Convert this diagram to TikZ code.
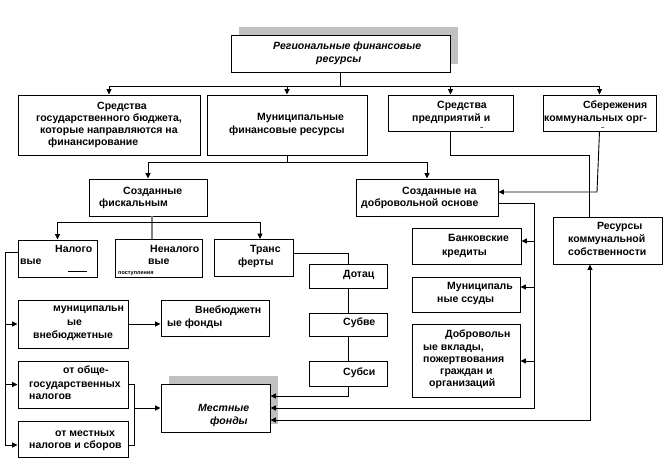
\documentclass[tikz,border=0pt]{standalone}
\usepackage{fontspec}
\setmainfont{Liberation Sans}
\usetikzlibrary{arrows.meta,shadows}
\definecolor{shad}{RGB}{192,192,192}
\definecolor{gline}{RGB}{128,128,128}
\begin{document}
\begin{tikzpicture}[x=1pt,y=-1pt,
 box/.style={draw, line width=0.9pt, fill=white, inner sep=0pt},
 t/.style={anchor=west, inner sep=0pt, text height=6pt, text depth=0pt, font=\bfseries\fontsize{10.5}{12.5}\selectfont},
 ti/.style={t, font=\bfseries\itshape\fontsize{10.5}{12.5}\selectfont},
 ln/.style={line width=0.9pt},
 arr/.style={ln, -{Triangle[length=5.5pt,width=5pt]}},
 darr/.style={ln, {Triangle[length=5.5pt,width=5pt]}-{Triangle[length=5.5pt,width=5pt]}},
 sh/.style={general shadow={fill=shad, shadow xshift=8pt, shadow yshift=8pt}}]
\useasboundingbox (0,0) rectangle (665,460);
\fill[white] (0,0) rectangle (665,460);

% boxes
\node[box, sh, minimum width=219pt, minimum height=37pt] (top) at (340.5,53.5) {};
\node[box, minimum width=182pt, minimum height=60pt] (b1) at (109,125) {};
\node[box, minimum width=160pt, minimum height=60pt] (b2) at (287,125) {};
\node[box, minimum width=125pt, minimum height=36pt] (b3) at (450.5,113) {};
\node[box, minimum width=113pt, minimum height=36pt] (b4) at (599.5,113) {};
\node[box, minimum width=118pt, minimum height=37pt] (fisk) at (148,197.5) {};
\node[box, minimum width=142pt, minimum height=37pt] (vol) at (427,197.5) {};
\node[box, minimum width=109pt, minimum height=47pt] (res) at (607.5,240.5) {};
\node[box, minimum width=109pt, minimum height=36pt] (bank) at (466.5,246) {};
\node[box, minimum width=108pt, minimum height=35pt] (ssud) at (466,294.5) {};
\node[box, minimum width=108pt, minimum height=73pt] (dobr) at (466,360.5) {};
\node[box, minimum width=79pt, minimum height=37pt] (nal) at (57.5,258.5) {};
\node[box, minimum width=87pt, minimum height=38pt] (nenal) at (158.5,258) {};
\node[box, minimum width=79pt, minimum height=37pt] (trans) at (253.5,257.5) {};
\node[box, minimum width=78pt, minimum height=24pt] (dot) at (348,276) {};
\node[box, minimum width=78pt, minimum height=23pt] (subv) at (348,324.5) {};
\node[box, minimum width=78pt, minimum height=25pt] (subs) at (348,373.5) {};
\node[box, minimum width=110pt, minimum height=48pt] (mun) at (73,324) {};
\node[box, minimum width=108pt, minimum height=36pt] (vneb) at (215,318) {};
\node[box, minimum width=110pt, minimum height=47pt] (obsh) at (73,384.5) {};
\node[box, minimum width=110pt, minimum height=36pt] (mestn) at (73,439) {};
\node[box, sh, minimum width=109pt, minimum height=48pt] (mest) at (215.5,408) {};

% texts
\node[ti] (tt1) at (273,47) {Региональные финансовые};
\node[ti] (tt2) at (316,60) {ресурсы};
\node[t] (a1) at (97,107) {Средства};
\node[t] (a2) at (36,119) {государственного бюджета,};
\node[t] (a3) at (40,131) {которые направляются на};
\node[t] (a4) at (48,143) {финансирование};
\node[t] (b2t1) at (257,118) {Муниципальные};
\node[t] (b2t2) at (229,131) {финансовые ресурсы};
\node[t] (b3t1) at (437,106) {Средства};
\node[t] (b3t2) at (412,119) {предприятий и};
\node[t, font=\bfseries\fontsize{6}{7}\selectfont] (b3t3) at (480,127) {–};
\node[t] (b4t1) at (583,106) {Сбережения};
\node[t] (b4t2) at (544,119) {коммунальных орг-};
\node[t, font=\bfseries\fontsize{6}{7}\selectfont] (b4t3) at (601,127) {–};
\node[t] (f1) at (123,191) {Созданные};
\node[t] (f2) at (99,203) {фискальным};
\node[t] (v1) at (402,191) {Созданные на};
\node[t] (v2) at (361,203) {добровольной основе};
\node[t] (r1) at (597,226) {Ресурсы};
\node[t] (r2) at (568,239) {коммунальной};
\node[t] (r3) at (568,252) {собственности};
\node[t] (k1) at (448,238) {Банковские};
\node[t] (k2) at (442,252) {кредиты};
\node[t] (s1) at (447,286) {Муниципаль};
\node[t] (s2) at (437,299) {ные ссуды};
\node[t] (d1) at (445,334) {Добровольн};
\node[t] (d2) at (423,347) {ые вклады,};
\node[t] (d3) at (423,359) {пожертвования};
\node[t] (d4) at (440,371) {граждан и};
\node[t] (d5) at (429,383) {организаций};
\node[t] (n1) at (55,249) {Налого};
\node[t] (n2) at (20,261) {вые};
\node[t] (nn1) at (150,249) {Неналого};
\node[t] (nn2) at (148,261) {вые};
\node[t, font=\bfseries\fontsize{5.5}{6}\selectfont] (nn3) at (118,271) {поступления};
\node[t] (tr1) at (250,249) {Транс};
\node[t] (tr2) at (238,262) {ферты};
\node[t] (dt) at (343,274) {Дотац};
\node[t] (sv) at (343,322) {Субве};
\node[t] (ss) at (343,372) {Субси};
\node[t] (m1) at (53,308) {муниципальн};
\node[t] (m2) at (67,322) {ые};
\node[t] (m3) at (33,335) {внебюджетные};
\node[t] (vb1) at (195,310) {Внебюджетн};
\node[t] (vb2) at (167,323) {ые фонды};
\node[t] (o1) at (63,370) {от обще-};
\node[t] (o2) at (29,384) {государственных};
\node[t] (o3) at (29,396) {налогов};
\node[t] (l1) at (55,433) {от местных};
\node[t] (l2) at (29,445) {налогов и сборов};
\node[ti] (mf1) at (198,408) {Местные};
\node[ti] (mf2) at (210,421) {фонды};
\draw[line width=0.8pt] (68,271) -- (87,271);

% coordinates
\coordinate (c1) at (340.5,86);
\coordinate (c2) at (287,162);
\coordinate (c3) at (589,155);
\coordinate (c4) at (597,192);
\coordinate (c5) at (534,203);
\coordinate (c5b) at (534,408);
\coordinate (cb) at (534,241);
\coordinate (cs) at (534,287);
\coordinate (cd) at (534,361);
\coordinate (c6) at (590,420);
\coordinate (c7) at (348,253);
\coordinate (c8) at (348,396);
\coordinate (c9) at (152,222);
\coordinate (c10) at (260,239);
\coordinate (c11) at (5,252);
\coordinate (c12) at (5,445);
\coordinate (c13) at (134,408);
\coordinate (c14) at (134,445);

% connectors
\draw[ln] (top.south) -- (c1);
\draw[arr] (c1) -| (b1.north);
\draw[arr] (c1) -| (b2.north);
\draw[arr] (c1) -| (b3.north);
\draw[arr] (c1) -| (b4.north);
\draw[ln] (b2.south) -- (c2);
\draw[arr] (c2) -| (fisk.north);
\draw[arr] (c2) -| (vol.north);
\draw[ln] (b3.south) |- (c3) -- (c3 |- res.north);
\draw[arr] (b4.south) -- (c4) -- (c4 -| vol.east);
\draw[arr] (c5 -| vol.east) -- (c5) -- (c5b) -- (c5b -| mest.east);
\draw[arr] (cb) -- (cb -| bank.east);
\draw[arr] (cs) -- (cs -| ssud.east);
\draw[arr] (cd) -- (cd -| dobr.east);
\draw[darr] (c6 |- res.south) -- (c6) -- (c6 -| mest.east);
\draw[ln] (c7 -| trans.east) -- (c7) -- (dot.north);
\draw[ln] (dot.south) -- (subv.north);
\draw[ln] (subv.south) -- (subs.north);
\draw[arr] (subs.south) -- (c8) -- (c8 -| mest.east);
\draw[line width=1.2pt, gline] (c9 |- fisk.south) -- (c9 |- nenal.north);
\draw[ln] (c9) -- (c9 -| nal.north);
\draw[arr] (c9) -| (nal.north);
\draw[arr] (c9) -| (c10);
\draw[ln] (c11 -| nal.west) -- (c11) -- (c12);
\draw[arr] (c12) -- (c12 -| mestn.west);
\draw[arr] (c11 |- mun.west) -- (mun.west);
\draw[arr] (c11 |- obsh.west) -- (obsh.west);
\draw[arr] (mun.east) -- (mun.east -| vneb.west);
\draw[ln] (obsh.east) -| (c14) -- (c14 -| mestn.east);
\draw[arr] (c13) -- (mest.west);
\end{tikzpicture}
\end{document}
